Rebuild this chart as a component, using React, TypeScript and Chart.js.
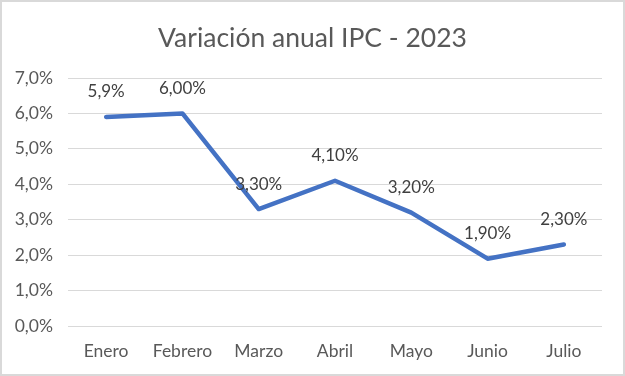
import React, { useEffect, useRef } from "react";
import { Chart, registerables } from "chart.js";

Chart.register(...registerables);

const categories = ["Enero", "Febrero", "Marzo", "Abril", "Mayo", "Junio", "Julio"];
const values = [5.9, 6.0, 3.3, 4.1, 3.2, 1.9, 2.3];
const valueLabels = ["5,9%", "6,00%", "3,30%", "4,10%", "3,20%", "1,90%", "2,30%"];
const titleText = "Variación anual IPC - 2023";

const FONT = "Lato, 'Open Sans', sans-serif";

const labelPlugin = {
  id: "valueLabels",
  afterDatasetsDraw(chart: any) {
    const ctx = chart.ctx;
    const meta = chart.getDatasetMeta(0);
    ctx.save();
    ctx.font = `17px ${FONT}`;
    ctx.fillStyle = "#404040";
    ctx.textAlign = "center";
    ctx.textBaseline = "middle";
    meta.data.forEach((pt: any, i: number) => {
      ctx.fillText(valueLabels[i], pt.x, pt.y - 25);
    });
    ctx.restore();
  },
};

const titleAndBorderPlugin = {
  id: "titleAndBorder",
  afterDraw(chart: any) {
    const ctx = chart.ctx;
    ctx.save();
    ctx.font = `26.5px ${FONT}`;
    ctx.fillStyle = "#595959";
    ctx.textAlign = "center";
    ctx.textBaseline = "middle";
    ctx.fillText(titleText, chart.width / 2, 38);
    ctx.strokeStyle = "#d9d9d9";
    ctx.lineWidth = 2;
    ctx.strokeRect(1, 1, chart.width - 2, chart.height - 2);
    ctx.restore();
  },
};

export default function App() {
  const ref = useRef<HTMLCanvasElement>(null);
  useEffect(() => {
    document.body.style.margin = "0";
    const chart = new Chart(ref.current as HTMLCanvasElement, {
      type: "line",
      data: {
        labels: categories,
        datasets: [
          {
            data: values,
            borderColor: "#4472C4",
            borderWidth: 4.5,
            borderCapStyle: "round",
            borderJoinStyle: "round",
            pointRadius: 0,
            tension: 0,
            fill: false,
          },
        ],
      },
      options: {
        animation: false,
        responsive: false,
        maintainAspectRatio: false,
        layout: { padding: { left: 0, right: 23, top: 78, bottom: 0 } },
        plugins: {
          legend: { display: false },
          tooltip: { enabled: false },
          title: { display: false },
        },
        scales: {
          x: {
            offset: true,
            grid: { display: false, drawTicks: false },
            border: { display: false },
            ticks: {
              color: "#595959",
              font: { family: FONT, size: 17.5 },
              padding: 14.5,
              maxRotation: 0,
            },
          },
          y: {
            min: 0,
            max: 7,
            afterFit: (s: any) => {
              s.width = 68;
            },
            grid: { color: "#d9d9d9", lineWidth: 1, drawTicks: false },
            border: { display: false },
            ticks: {
              stepSize: 1,
              color: "#595959",
              font: { family: FONT, size: 17.5 },
              padding: 15,
              callback: (v: any) => Number(v).toFixed(1).replace(".", ",") + "%",
            },
          },
        },
      },
      plugins: [labelPlugin, titleAndBorderPlugin],
    });
    return () => chart.destroy();
  }, []);
  return <canvas ref={ref} width={625} height={376} style={{ display: "block" }} />;
}
